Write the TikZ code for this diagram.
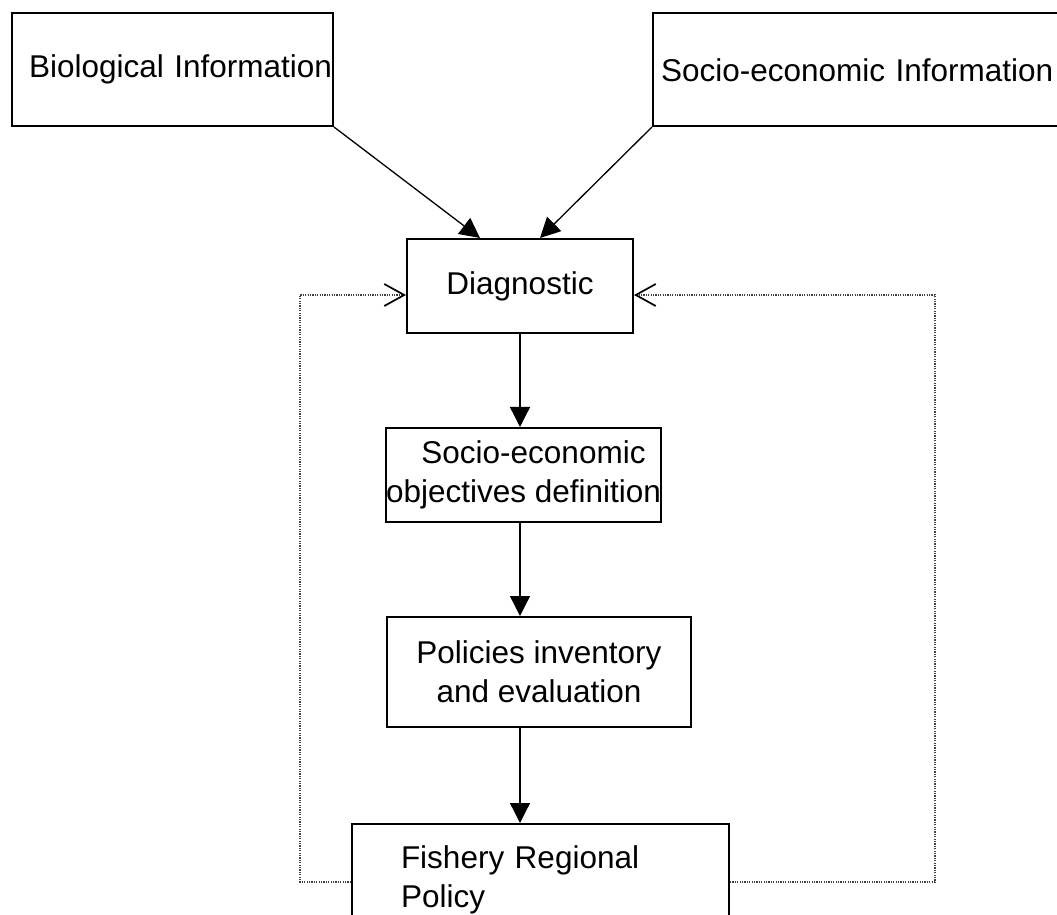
\documentclass[tikz,border=0pt]{standalone}
\usepackage{fontspec}
\setmainfont{Liberation Sans}
\usetikzlibrary{arrows.meta}

\begin{document}
\begin{tikzpicture}[
  x=0.5pt, y=-0.5pt,
  font=\fontsize{15.75}{19.5}\selectfont,
  infobox/.style={draw, line width=1pt, minimum height=56.25pt, anchor=north west, align=left, inner ysep=0pt},
  stepbox/.style={draw, line width=1pt, inner xsep=0pt, align=center},
  flow/.style={-{Triangle[length=10pt, width=10pt]}, line width=0.65pt},
  feedback/.style={-{Straight Barb[length=10pt, width=11pt, line width=0.85pt, color=black]}, line width=0.6pt, black!75, dash pattern=on 0.6pt off 0.6pt},
  ]
  \useasboundingbox (0,0) rectangle (1057,915);

  % information sources
  \node[infobox, inner xsep=8.5pt, text width=143.5pt] (bio) at (11,12.5) {\mbox{Biological Information}};
  \node[infobox, inner xsep=4pt, text width=206pt] (socinfo) at (652,12.5) {Socio-economic Information};

  % main chain
  \node[stepbox, minimum width=113pt, minimum height=47pt] (diag) at (520,286) {Diagnostic};
  \node[stepbox, minimum width=136.5pt, minimum height=47pt] (socobj) at (523.5,475) {\hspace*{10pt}Socio-economic\\objectives definition};
  \node[stepbox, minimum width=152pt, minimum height=55pt] (pol) at (539,672) {Policies inventory\\and evaluation};
  \node[draw, line width=1pt, anchor=north west, align=left, text width=139.5pt, inner xsep=24.5pt, inner ysep=11pt] (fish) at (351,823) {Fishery Regional\\Policy};

  \draw[flow] (bio.south east) -- ([xshift=-20pt]diag.north);
  \draw[flow] (socinfo.south west) -- ([xshift=10pt]diag.north);
  \draw[flow] (diag.south) -- (diag.south |- socobj.north);
  \draw[flow] (diag.south |- socobj.south) -- (diag.south |- pol.north);
  \draw[flow] (diag.south |- pol.south) -- (diag.south |- fish.north);

  % feedback loop
  \coordinate (loopL) at (300,882);
  \coordinate (loopR) at (935,882);
  \draw[feedback] (fish.west |- loopL) -- (loopL) |- ([yshift=-4.5pt]diag.west);
  \draw[feedback] (fish.east |- loopR) -- (loopR) |- ([yshift=-4.5pt]diag.east);
\end{tikzpicture}
\end{document}
